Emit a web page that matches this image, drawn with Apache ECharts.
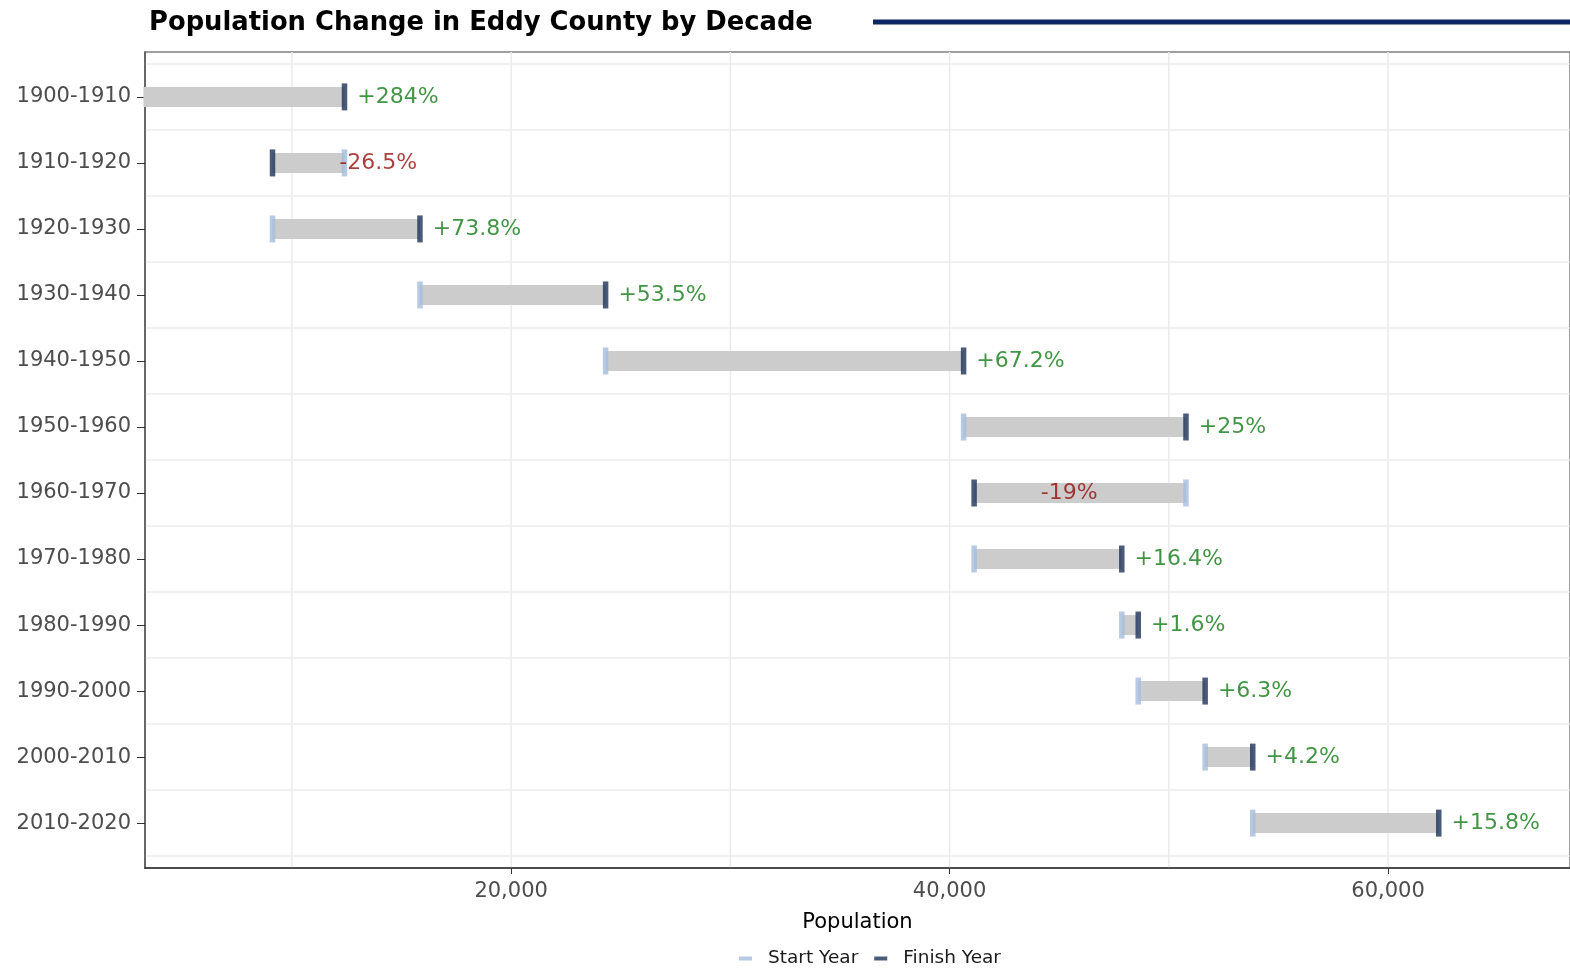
<!DOCTYPE html>
<html>
<head>
<meta charset="utf-8">
<title>Population Change in Eddy County by Decade</title>
<script src="https://cdn.jsdelivr.net/npm/echarts@6/dist/echarts.min.js"></script>
<style>
  html, body { margin: 0; padding: 0; background: #fff; }
  #chart { width: 1570px; height: 968px; }
</style>
</head>
<body>
<div id="chart"></div>
<script>
const decades = ['1900-1910', '1910-1920', '1920-1930', '1930-1940', '1940-1950', '1950-1960',
  '1960-1970', '1970-1980', '1980-1990', '1990-2000', '2000-2010', '2010-2020'];
const startPop = [3229, 12400, 9116, 15842, 24311, 40640, 50783, 41119, 47855, 48605, 51658, 53829];
const finishPop = [12400, 9116, 15842, 24311, 40640, 50783, 41119, 47855, 48605, 51658, 53829, 62314];
const changeLabels = ['+284%', '-26.5%', '+73.8%', '+53.5%', '+67.2%', '+25%',
  '-19%', '+16.4%', '+1.6%', '+6.3%', '+4.2%', '+15.8%'];
const xTicks = [20000, 40000, 60000];
const xGridLines = [10000, 20000, 30000, 40000, 50000, 60000];

const chart = echarts.init(document.getElementById('chart'));

const rowIdx = decades.map((d, i) => i);
const halfSteps = decades.map((d, i) => i - 0.5).concat([decades.length - 0.5]);

const lineFont = 'DejaVu Sans';

chart.setOption({
  animation: false,
  title: {
    text: 'Population Change in Eddy County by Decade',
    left: 144,
    top: 5,
    textStyle: { fontFamily: lineFont, fontWeight: 'bold', fontSize: 25.8, color: '#000' }
  },
  graphic: [{
    type: 'line',
    shape: { x1: 873, y1: 22, x2: 1570, y2: 22 },
    style: { stroke: '#0b2660', lineWidth: 5 }
  }],
  legend: {
    data: ['Start Year', 'Finish Year'],
    top: 944,
    left: 734,
    icon: 'rect',
    itemWidth: 13,
    itemHeight: 4,
    itemGap: 16,
    textStyle: { fontFamily: lineFont, fontSize: 18.5, color: '#1a1a1a', padding: [0, 0, 0, 11] }
  },
  grid: {
    left: 145, right: 0, top: 52, bottom: 100,
    show: true, borderColor: '#7f7f7f', borderWidth: 1.5
  },
  xAxis: {
    type: 'value',
    min: 3300,
    max: 68300,
    name: 'Population',
    nameLocation: 'middle',
    nameGap: 44,
    nameTextStyle: { fontFamily: lineFont, fontSize: 21, color: '#000' },
    axisLine: { show: true, onZero: false, lineStyle: { color: '#333', width: 1.5 } },
    axisTick: { show: true, customValues: xTicks, length: 6, lineStyle: { color: '#333' } },
    axisLabel: {
      customValues: xTicks,
      margin: 13,
      fontFamily: lineFont, fontSize: 21, color: '#4d4d4d',
      formatter: v => v.toLocaleString('en-US')
    },
    splitLine: { show: false }
  },
  yAxis: {
    type: 'value',
    inverse: true,
    min: -0.68,
    max: 11.68,
    axisLine: { show: true, onZero: false, lineStyle: { color: '#555', width: 1.5 } },
    axisTick: { show: true, customValues: rowIdx, length: 8, lineStyle: { color: '#333' } },
    axisLabel: {
      customValues: rowIdx,
      margin: 14,
      fontFamily: lineFont, fontSize: 21, color: '#4d4d4d',
      formatter: v => decades[Math.round(v)] || ''
    },
    splitLine: { show: false }
  },
  series: [
    {
      type: 'custom',
      name: 'vgrid',
      silent: true,
      z: 0,
      data: xGridLines.map(v => [v, 0]),
      encode: { x: 0 },
      renderItem: (params, api) => {
        const x = api.coord([api.value(0), 0])[0];
        const cs = params.coordSys;
        return {
          type: 'line',
          shape: { x1: x, y1: cs.y, x2: x, y2: cs.y + cs.height },
          style: { stroke: '#ebebeb', lineWidth: 1.5 }
        };
      }
    },
    {
      type: 'custom',
      name: 'hgrid',
      silent: true,
      z: 0,
      data: halfSteps.map(v => [3300, v]),
      encode: { y: 1 },
      renderItem: (params, api) => {
        const y = api.coord([3300, api.value(1)])[1];
        const cs = params.coordSys;
        return {
          type: 'line',
          shape: { x1: cs.x, y1: y, x2: cs.x + cs.width, y2: y },
          style: { stroke: '#ebebeb', lineWidth: 1.5 }
        };
      }
    },
    {
      type: 'custom',
      name: 'bars',
      silent: true,
      z: 1,
      data: rowIdx.map(i => [i, startPop[i], finishPop[i]]),
      encode: { x: [1, 2], y: 0 },
      renderItem: (params, api) => {
        const a = api.coord([api.value(1), api.value(0)]);
        const b = api.coord([api.value(2), api.value(0)]);
        const h = 20;
        return {
          type: 'rect',
          shape: { x: Math.min(a[0], b[0]), y: a[1] - h / 2, width: Math.abs(b[0] - a[0]), height: h },
          style: { fill: '#cccccc' }
        };
      }
    },
    {
      type: 'scatter',
      name: 'Start Year',
      z: 2,
      symbol: 'rect',
      symbolSize: [5.5, 27],
      itemStyle: { color: '#a4bedc' },
      data: rowIdx.map(i => [startPop[i], i])
    },
    {
      type: 'scatter',
      name: 'Finish Year',
      z: 3,
      symbol: 'rect',
      symbolSize: [5.5, 27],
      itemStyle: { color: '#1b3258' },
      data: rowIdx.map(i => {
        const neg = changeLabels[i].startsWith('-');
        return {
          value: [finishPop[i], i],
          label: {
            show: true,
            position: 'right',
            distance: neg ? 64 : 10,
            formatter: changeLabels[i],
            fontFamily: lineFont,
            fontSize: 22,
            color: neg ? '#960c0c' : '#137a15'
          }
        };
      })
    }
  ]
});
</script>
</body>
</html>
